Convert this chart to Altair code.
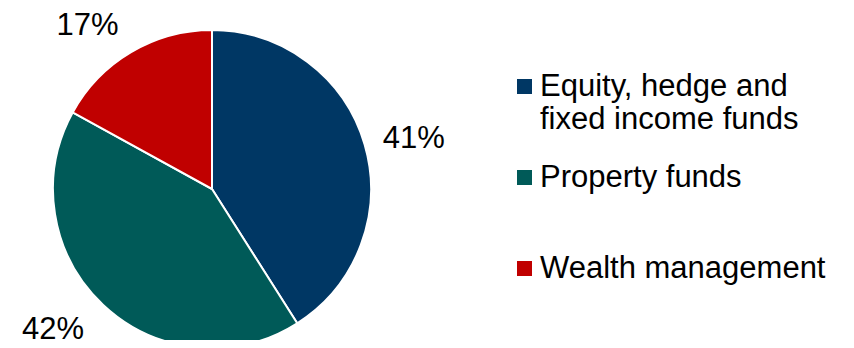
import altair as alt
import pandas as pd

categories = ["Equity, hedge and|fixed income funds", "Property funds|", "Wealth management"]
shares = [41, 42, 17]
labels = ["41%", "42%", "17%"]
colors = ["#003764", "#005a58", "#c00000"]

df = pd.DataFrame({"category": categories, "share": shares, "label": labels, "order": [0, 1, 2]})

CX, CY = 204, 181
FONT = "Liberation Sans"

base = alt.Chart(df).encode(
    theta=alt.Theta("share:Q", stack=True),
    order=alt.Order("order:Q"),
)

pie = base.mark_arc(outerRadius=159, stroke="white", strokeWidth=2).encode(
    x=alt.value(CX),
    y=alt.value(CY),
    color=alt.Color(
        "category:N",
        scale=alt.Scale(domain=categories, range=colors),
        sort=categories,
        legend=alt.Legend(
            title=None,
            orient="none",
            legendX=501,
            legendY=63,
            symbolType="square",
            symbolSize=225,
            symbolStrokeWidth=0,
            symbolOpacity=1,
            labelFont=FONT,
            labelFontSize=31,
            labelColor="black",
            labelLimit=0,
            labelOffset=0,
            labelExpr="split(datum.label, '|')",
            padding=0,
            rowPadding=26,
        ),
    ),
)

offsets = [(1, 8), (-16, -11), (-18, 17)]
layers = [pie]
for i, (ddx, ddy) in enumerate(offsets):
    layers.append(
        base.mark_text(radius=209, font=FONT, fontSize=31, color="black", dx=ddx, dy=ddy).encode(
            x=alt.value(CX),
            y=alt.value(CY),
            text=alt.condition(f"datum.order == {i}", alt.Text("label:N"), alt.value("")),
        )
    )

chart = alt.layer(*layers).properties(
    width=838, height=332, padding=0, autosize="none"
).configure_view(stroke=None)

chart.save("out.html", embed_options={"renderer": "svg", "actions": False})
